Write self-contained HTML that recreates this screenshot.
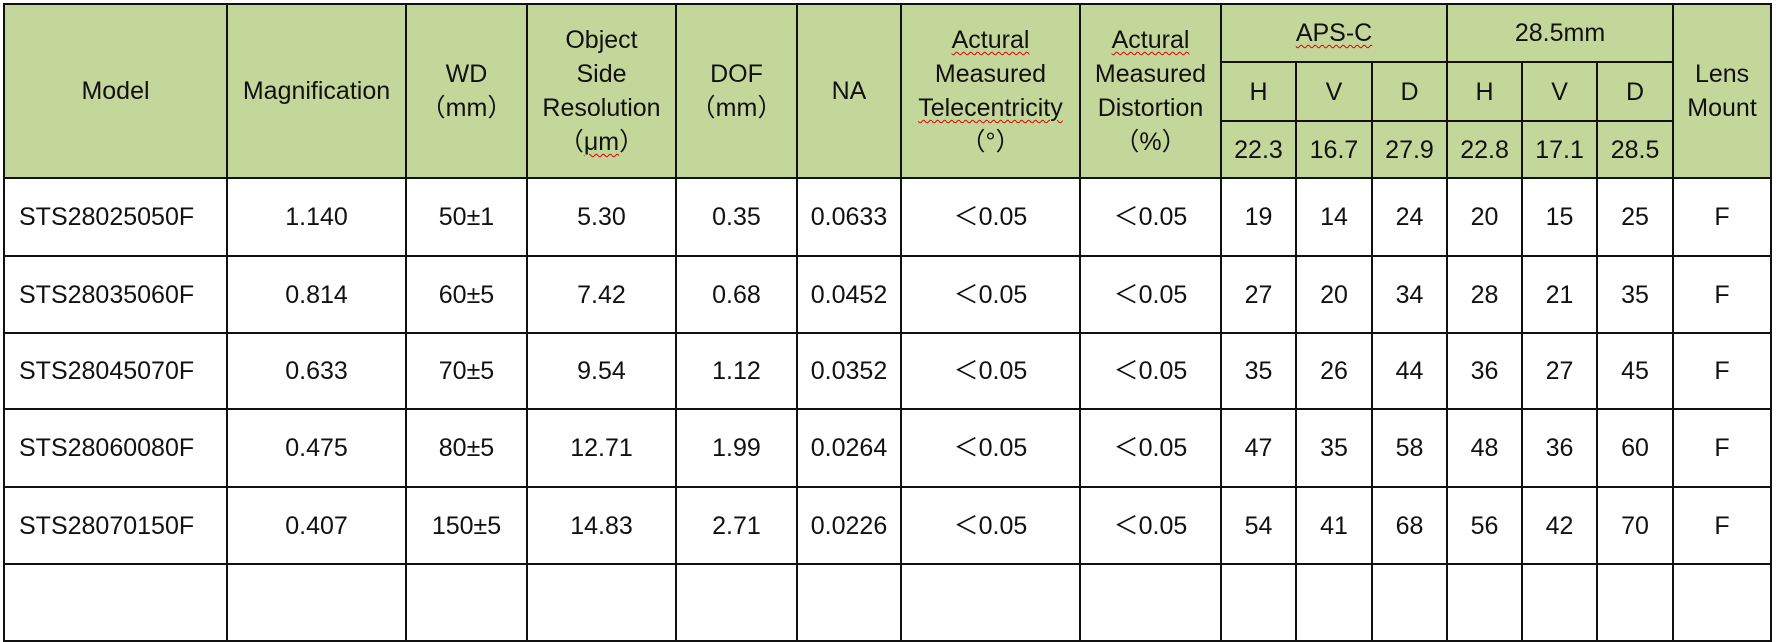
<!DOCTYPE html>
<html><head><meta charset="utf-8">
<style>
html,body{margin:0;padding:0;background:#fff;width:1776px;height:568px;overflow:hidden;}
table{position:absolute;left:3px;top:3px;border-collapse:collapse;table-layout:fixed;width:1767px;
 font-family:"Liberation Sans","Noto Sans CJK SC",sans-serif;font-size:25px;color:#111;}
td{border:2.5px solid #111;text-align:center;vertical-align:middle;padding:0;line-height:34px;}
thead td{background:#c4d79b;}
tbody tr{height:77px;}
td.m{text-align:left;padding-left:14px;}
.sq{text-decoration:underline wavy #d00;text-decoration-thickness:1px;text-underline-offset:3px;}
</style></head><body>
<table>
<colgroup>
<col style="width:223px"><col style="width:179px"><col style="width:121px"><col style="width:149px">
<col style="width:121px"><col style="width:104px"><col style="width:179px"><col style="width:141px">
<col style="width:75px"><col style="width:76px"><col style="width:75px"><col style="width:75px">
<col style="width:75px"><col style="width:76px"><col style="width:98px">
</colgroup>
<thead>
<tr style="height:58px">
<td rowspan="3">Model</td>
<td rowspan="3">Magnification</td>
<td rowspan="3">WD<br>（mm）</td>
<td rowspan="3">Object<br>Side<br>Resolution<br>（<span class="sq">μm</span>）</td>
<td rowspan="3">DOF<br>（mm）</td>
<td rowspan="3">NA</td>
<td rowspan="3"><span class="sq">Actural</span><br>Measured<br><span class="sq">Telecentricity</span><br>（°）</td>
<td rowspan="3"><span class="sq">Actural</span><br>Measured<br>Distortion<br>（%）</td>
<td colspan="3"><span class="sq">APS-C</span></td>
<td colspan="3">28.5mm</td>
<td rowspan="3">Lens<br>Mount</td>
</tr>
<tr style="height:59px">
<td>H</td><td>V</td><td>D</td>
<td>H</td><td>V</td><td>D</td>
</tr>
<tr style="height:57px">
<td>22.3</td><td>16.7</td><td>27.9</td>
<td>22.8</td><td>17.1</td><td>28.5</td>
</tr>
</thead>
<tbody>
<tr style="height:78px"><td class="m">STS28025050F</td><td>1.140</td><td>50±1</td><td>5.30</td><td>0.35</td><td>0.0633</td><td>＜0.05</td><td>＜0.05</td><td>19</td><td>14</td><td>24</td><td>20</td><td>15</td><td>25</td><td>F</td></tr>
<tr><td class="m">STS28035060F</td><td>0.814</td><td>60±5</td><td>7.42</td><td>0.68</td><td>0.0452</td><td>＜0.05</td><td>＜0.05</td><td>27</td><td>20</td><td>34</td><td>28</td><td>21</td><td>35</td><td>F</td></tr>
<tr style="height:76px"><td class="m">STS28045070F</td><td>0.633</td><td>70±5</td><td>9.54</td><td>1.12</td><td>0.0352</td><td>＜0.05</td><td>＜0.05</td><td>35</td><td>26</td><td>44</td><td>36</td><td>27</td><td>45</td><td>F</td></tr>
<tr style="height:78px"><td class="m">STS28060080F</td><td>0.475</td><td>80±5</td><td>12.71</td><td>1.99</td><td>0.0264</td><td>＜0.05</td><td>＜0.05</td><td>47</td><td>35</td><td>58</td><td>48</td><td>36</td><td>60</td><td>F</td></tr>
<tr><td class="m">STS28070150F</td><td>0.407</td><td>150±5</td><td>14.83</td><td>2.71</td><td>0.0226</td><td>＜0.05</td><td>＜0.05</td><td>54</td><td>41</td><td>68</td><td>56</td><td>42</td><td>70</td><td>F</td></tr>
<tr><td></td><td></td><td></td><td></td><td></td><td></td><td></td><td></td><td></td><td></td><td></td><td></td><td></td><td></td><td></td></tr>
</tbody>
</table>
</body></html>
